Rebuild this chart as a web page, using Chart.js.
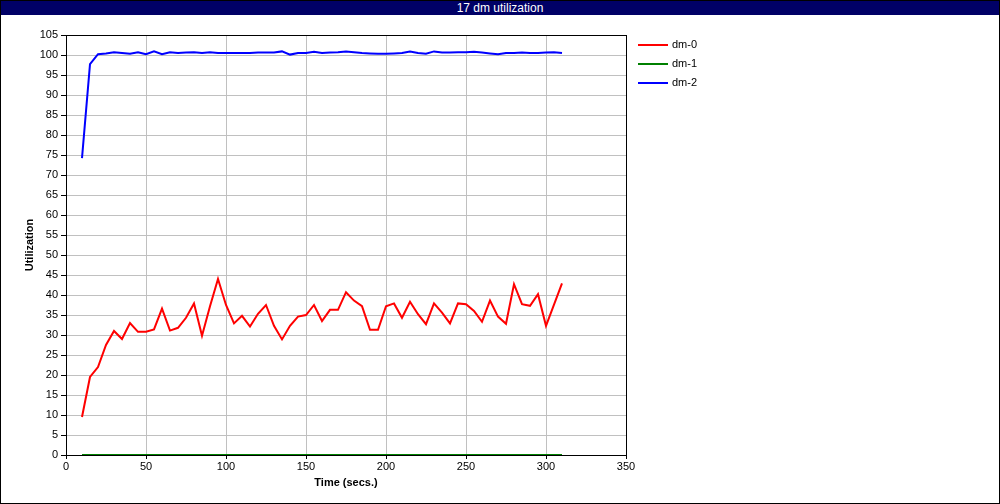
<!DOCTYPE html>
<html>
<head>
<meta charset="utf-8">
<script src="https://cdn.jsdelivr.net/npm/chart.js@4"></script>
<style>
    body { margin: 0; background: #fff; }
    #wrap { position: relative; width: 1000px; height: 504px; }
    #frame { position: absolute; left: 0; top: 0; width: 1000px; height: 504px;
             border: 1px solid #000; box-sizing: border-box; pointer-events: none; }
    #titleBar { position: absolute; left: 0; top: 0; width: 1000px; height: 15px;
                background: #000066; color: #fff; text-align: center;
                font: 12px "Liberation Sans", Arial, sans-serif; line-height: 16px; }
    #legend { position: absolute; left: 638px; top: 35px;
              font: 11px "Liberation Sans", Arial, sans-serif; color: #000; }
    .item { height: 19px; line-height: 19px; display: flex; align-items: center; }
    .swatch { width: 30px; height: 2px; margin-right: 4px; }
</style>
</head>
<body>
<div id="wrap">
    <canvas id="chart" width="1000" height="504"></canvas>
    <div id="titleBar">17 dm utilization</div>
    <div id="legend"></div>
    <div id="frame"></div>
</div>
<script>
// time stamps (secs.)
const times = [10, 15, 20, 25, 30, 35, 40, 45, 50, 55,
    60, 65, 70, 75, 80, 85, 90, 95, 100, 105,
    110, 115, 120, 125, 130, 135, 140, 145, 150, 155,
    160, 165, 170, 175, 180, 185, 190, 195, 200, 205,
    210, 215, 220, 225, 230, 235, 240, 245, 250, 255,
    260, 265, 270, 275, 280, 285, 290, 295, 300, 305,
    310];

const dm0 = [9.5, 19.5, 22, 27.5, 31, 29, 33, 30.8, 30.8, 31.4,
    36.6, 31.1, 31.8, 34.3, 37.9, 29.8, 37.2, 44, 37.5, 32.9,
    34.8, 32.1, 35.3, 37.5, 32.3, 28.9, 32.3, 34.6, 35, 37.5,
    33.5, 36.3, 36.3, 40.7, 38.6, 37.2, 31.3, 31.3, 37.2, 37.9,
    34.3, 38.3, 35.2, 32.7, 37.9, 35.6, 32.9, 37.9, 37.7, 36,
    33.3, 38.6, 34.6, 32.8, 42.7, 37.7, 37.3, 40.2, 32.3, 37.6,
    42.9];

const dm1 = [0, 0, 0, 0, 0, 0, 0, 0, 0, 0,
    0, 0, 0, 0, 0, 0, 0, 0, 0, 0,
    0, 0, 0, 0, 0, 0, 0, 0, 0, 0,
    0, 0, 0, 0, 0, 0, 0, 0, 0, 0,
    0, 0, 0, 0, 0, 0, 0, 0, 0, 0,
    0, 0, 0, 0, 0, 0, 0, 0, 0, 0,
    0];

const dm2 = [74.2, 97.7, 100.2, 100.4, 100.7, 100.5, 100.3, 100.7, 100.2, 100.9,
    100.2, 100.7, 100.5, 100.6, 100.7, 100.5, 100.7, 100.5, 100.5, 100.5,
    100.5, 100.5, 100.6, 100.6, 100.6, 100.9, 100.1, 100.5, 100.5, 100.8,
    100.5, 100.6, 100.7, 100.9, 100.7, 100.5, 100.4, 100.3, 100.3, 100.4,
    100.5, 100.9, 100.5, 100.3, 100.9, 100.6, 100.6, 100.7, 100.7, 100.8,
    100.6, 100.4, 100.2, 100.5, 100.5, 100.6, 100.5, 100.5, 100.6, 100.7,
    100.5];

const seriesNames = ["dm-0", "dm-1", "dm-2"];
const seriesColors = ["#ff0000", "#008000", "#0000ff"];

const font = "'Liberation Sans', Arial, sans-serif";

function toPoints(values) {
    return values.map((v, i) => ({ x: times[i], y: v }));
}

// black box around the plot area, drawn under the lines
const plotFrame = {
    id: "plotFrame",
    beforeDatasetsDraw(chart) {
        const { ctx, chartArea: a } = chart;
        ctx.save();
        ctx.strokeStyle = "#000";
        ctx.lineWidth = 1;
        ctx.strokeRect(Math.round(a.left) + 0.5, Math.round(a.top) + 0.5,
            Math.round(a.right - a.left), Math.round(a.bottom - a.top));
        ctx.restore();
    }
};

const allSeries = [dm0, dm1, dm2];

new Chart(document.getElementById("chart"), {
    type: "line",
    data: {
        datasets: allSeries.map((vals, i) => ({
            label: seriesNames[i],
            data: toPoints(vals),
            borderColor: seriesColors[i],
            backgroundColor: seriesColors[i],
            borderWidth: 2,
            pointRadius: 0,
            tension: 0,
            fill: false
        }))
    },
    options: {
        responsive: false,
        animation: false,
        layout: { padding: { left: 20, top: 35, right: 374, bottom: 10 } },
        plugins: {
            legend: { display: false },
            tooltip: { enabled: false }
        },
        scales: {
            x: {
                type: "linear",
                min: 0,
                max: 350,
                afterFit: s => { s.height = 39; },
                ticks: { stepSize: 50, color: "#000", font: { family: font, size: 11 }, padding: 1, maxRotation: 0 },
                grid: { color: "#c0c0c0", tickColor: "#000", tickLength: 4 },
                border: { display: false },
                title: {
                    display: true,
                    text: "Time (secs.)",
                    color: "#000",
                    font: { family: font, size: 11, weight: "bold" },
                    padding: { top: 0, bottom: 4 }
                }
            },
            y: {
                min: 0,
                max: 105,
                afterFit: s => { s.width = 46; },
                ticks: { stepSize: 5, color: "#000", font: { family: font, size: 11 }, padding: 3 },
                grid: { color: "#c0c0c0", tickColor: "#000", tickLength: 5 },
                border: { display: false },
                title: {
                    display: true,
                    text: "Utilization",
                    color: "#000",
                    font: { family: font, size: 11, weight: "bold" },
                    padding: { top: 3, bottom: 0 }
                }
            }
        }
    },
    plugins: [plotFrame]
});

// legend on the right
const legend = document.getElementById("legend");
seriesNames.forEach((name, i) => {
    const item = document.createElement("div");
    item.className = "item";
    item.innerHTML = `<span class="swatch" style="background:${seriesColors[i]}"></span>${name}`;
    legend.appendChild(item);
});
</script>
</body>
</html>
